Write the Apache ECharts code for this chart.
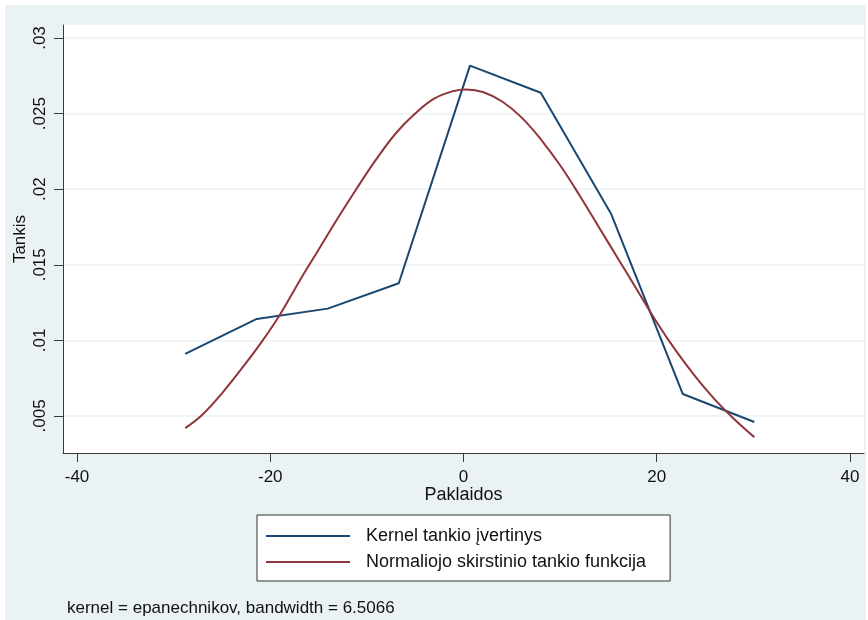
<!DOCTYPE html>
<html>
<head>
<meta charset="utf-8">
<title>Paklaidos</title>
<script src="https://cdn.jsdelivr.net/npm/echarts@6/dist/echarts.min.js"></script>
<style>
body {
    margin: 0;
    background-color: #ffffff;
}
.data-pic {
    position: absolute;
    left: 5px;
    top: 5px;
    width: 861px;
    height: 615px;
}
</style>
</head>
<body>
<div id="chart" class="data-pic"></div>
<script>
// kernel density estimate (epanechnikov)
const kernelX = [-28.8, -21.4, -14.05, -6.7, 0.67, 8.0, 15.3, 22.7, 30.1];
const kernelY = [0.0091, 0.01142, 0.0121, 0.01378, 0.02817, 0.02638, 0.01834, 0.00645, 0.0046];

// normal density curve
const normalX = [-28.8, -27, -25, -23, -21, -19, -17, -15, -13, -11, -9, -7, -5, -3, -1, 0.3,
                 2, 4, 6, 8, 10, 12, 14, 16, 18, 20, 22, 24, 26, 28, 30.1];
const normalY = [0.0042, 0.0051, 0.0065, 0.0081, 0.0098, 0.0117, 0.0139, 0.0160, 0.0181, 0.0201, 0.0220,
                 0.0237, 0.0250, 0.0260, 0.0265, 0.0266, 0.02643, 0.0258, 0.02475, 0.0233, 0.02158,
                 0.0196, 0.0175, 0.0154, 0.0133, 0.0112, 0.0093, 0.0076, 0.0061, 0.0048, 0.0036];

const xTicks = [-40, -20, 0, 20, 40];
const yTicks = [0.005, 0.01, 0.015, 0.02, 0.025, 0.03];

const seriesNames = ['Kernel tankio įvertinys', 'Normaliojo skirstinio tankio funkcija'];
const noteText = 'kernel = epanechnikov, bandwidth = 6.5066';

function pairs(xs, ys) {
    return xs.map(function (x, i) { return [x, ys[i]]; });
}

var myChart = echarts.init(document.getElementById('chart'));

const axisColor = '#3a3a3a';
const fontName = 'Liberation Sans';

myChart.setOption({
    backgroundColor: '#eaf2f3',
    textStyle: { fontFamily: fontName },
    title: {
        text: noteText,
        left: 62,
        top: 595,
        padding: 0,
        textStyle: { fontSize: 17, fontWeight: 'normal', color: '#111', fontFamily: fontName }
    },
    legend: {
        orient: 'vertical',
        left: 252,
        top: 510,
        padding: [12, 24, 10, 9],
        itemGap: 8,
        itemWidth: 84,
        itemHeight: 2,
        icon: 'rect',
        backgroundColor: '#ffffff',
        borderColor: '#333333',
        borderWidth: 1,
        borderRadius: 0,
        textStyle: { fontSize: 18, color: '#111', padding: [0, 0, 0, 11], fontFamily: fontName },
        data: seriesNames
    },
    grid: {
        left: 58,
        right: 2,
        top: 20,
        bottom: 167,
        containLabel: false,
        outerBoundsMode: 'none',
        show: true,
        backgroundColor: '#ffffff',
        borderWidth: 0
    },
    xAxis: {
        type: 'value',
        min: -41.45,
        max: 41.45,
        name: 'Paklaidos',
        nameLocation: 'middle',
        nameGap: 33,
        nameMoveOverlap: false,
        nameTextStyle: { fontSize: 18, color: '#111' },
        axisLine: { show: true, onZero: false, lineStyle: { color: axisColor, width: 1 } },
        axisTick: { show: true, length: 9, customValues: xTicks, lineStyle: { color: axisColor } },
        axisLabel: {
            customValues: xTicks,
            fontSize: 17,
            color: '#111',
            margin: 16
        },
        splitLine: { show: false }
    },
    yAxis: {
        type: 'value',
        min: 0.00255,
        max: 0.03086,
        name: 'Tankis',
        nameLocation: 'middle',
        nameGap: 34,
        nameMoveOverlap: false,
        nameTextStyle: { fontSize: 17, color: '#111' },
        axisLine: { show: true, onZero: false, lineStyle: { color: axisColor, width: 1 } },
        axisTick: { show: true, length: 9, customValues: yTicks, lineStyle: { color: axisColor } },
        axisLabel: {
            customValues: yTicks,
            rotate: 90,
            fontSize: 17,
            color: '#111',
            margin: 14,
            formatter: function (v) {
                return String(+v.toFixed(3)).replace(/^0/, '');
            }
        },
        splitLine: { show: true, lineStyle: { color: '#eaf2f3', width: 1.5 } }
    },
    series: [
        {
            name: seriesNames[0],
            type: 'line',
            data: pairs(kernelX, kernelY),
            showSymbol: false,
            color: '#1a476f',
            lineStyle: { width: 2, color: '#1a476f' }
        },
        {
            name: seriesNames[1],
            type: 'line',
            data: pairs(normalX, normalY),
            smooth: 0.4,
            showSymbol: false,
            color: '#90353b',
            lineStyle: { width: 2, color: '#90353b' }
        }
    ]
});
</script>
</body>
</html>
